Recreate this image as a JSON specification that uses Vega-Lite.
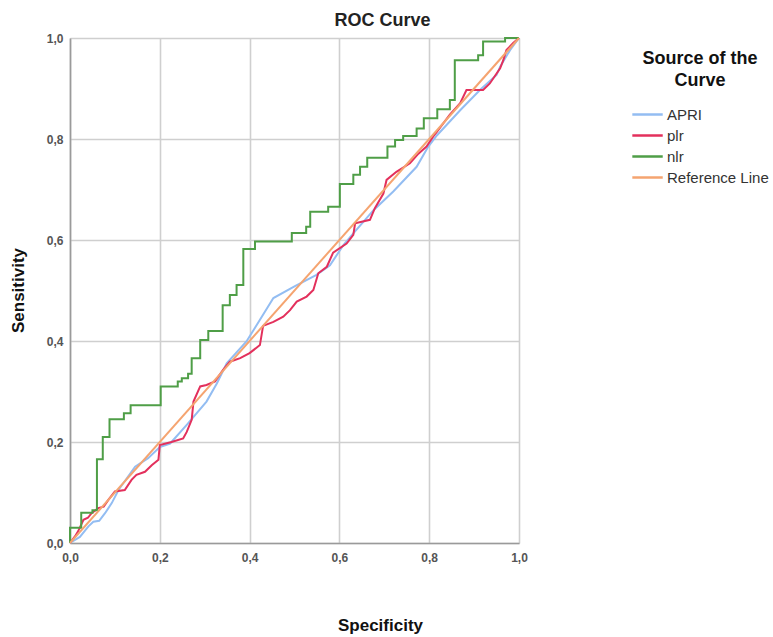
{
  "$schema": "https://vega.github.io/schema/vega-lite/v6.json",
  "autosize": {"type": "none"},
  "padding": {"left": 70, "top": 38, "right": 254, "bottom": 94},
  "width": 449,
  "height": 505,
  "background": "white",
  "title": {"text": "ROC Curve", "fontSize": 18, "fontWeight": "bold", "font": "Liberation Sans", "color": "#222222", "anchor": "middle", "dx": 88, "offset": 2},
  "datasets": {
    "roc": [
      {"series": "APRI", "spec": 0, "sens": 0},
      {"series": "APRI", "spec": 0.022, "sens": 0.012},
      {"series": "APRI", "spec": 0.041, "sens": 0.033},
      {"series": "APRI", "spec": 0.052, "sens": 0.042},
      {"series": "APRI", "spec": 0.065, "sens": 0.044},
      {"series": "APRI", "spec": 0.078, "sens": 0.059},
      {"series": "APRI", "spec": 0.093, "sens": 0.079},
      {"series": "APRI", "spec": 0.108, "sens": 0.105},
      {"series": "APRI", "spec": 0.145, "sens": 0.151},
      {"series": "APRI", "spec": 0.174, "sens": 0.168},
      {"series": "APRI", "spec": 0.2, "sens": 0.19},
      {"series": "APRI", "spec": 0.223, "sens": 0.197},
      {"series": "APRI", "spec": 0.26, "sens": 0.234},
      {"series": "APRI", "spec": 0.304, "sens": 0.28},
      {"series": "APRI", "spec": 0.327, "sens": 0.316},
      {"series": "APRI", "spec": 0.349, "sens": 0.356},
      {"series": "APRI", "spec": 0.393, "sens": 0.399},
      {"series": "APRI", "spec": 0.453, "sens": 0.485},
      {"series": "APRI", "spec": 0.5, "sens": 0.508},
      {"series": "APRI", "spec": 0.549, "sens": 0.531},
      {"series": "APRI", "spec": 0.579, "sens": 0.55},
      {"series": "APRI", "spec": 0.609, "sens": 0.59},
      {"series": "APRI", "spec": 0.631, "sens": 0.613},
      {"series": "APRI", "spec": 0.676, "sens": 0.659},
      {"series": "APRI", "spec": 0.72, "sens": 0.696},
      {"series": "APRI", "spec": 0.772, "sens": 0.745},
      {"series": "APRI", "spec": 0.798, "sens": 0.785},
      {"series": "APRI", "spec": 0.817, "sens": 0.807},
      {"series": "APRI", "spec": 0.869, "sens": 0.857},
      {"series": "APRI", "spec": 0.913, "sens": 0.897},
      {"series": "APRI", "spec": 0.95, "sens": 0.927},
      {"series": "APRI", "spec": 0.958, "sens": 0.943},
      {"series": "APRI", "spec": 0.98, "sens": 0.976},
      {"series": "APRI", "spec": 1, "sens": 1},
      {"series": "plr", "spec": 0, "sens": 0},
      {"series": "plr", "spec": 0.011, "sens": 0.013},
      {"series": "plr", "spec": 0.018, "sens": 0.023},
      {"series": "plr", "spec": 0.03, "sens": 0.046},
      {"series": "plr", "spec": 0.04, "sens": 0.05},
      {"series": "plr", "spec": 0.048, "sens": 0.059},
      {"series": "plr", "spec": 0.063, "sens": 0.069},
      {"series": "plr", "spec": 0.075, "sens": 0.072},
      {"series": "plr", "spec": 0.085, "sens": 0.085},
      {"series": "plr", "spec": 0.1, "sens": 0.102},
      {"series": "plr", "spec": 0.122, "sens": 0.105},
      {"series": "plr", "spec": 0.137, "sens": 0.125},
      {"series": "plr", "spec": 0.148, "sens": 0.135},
      {"series": "plr", "spec": 0.167, "sens": 0.141},
      {"series": "plr", "spec": 0.182, "sens": 0.154},
      {"series": "plr", "spec": 0.197, "sens": 0.165},
      {"series": "plr", "spec": 0.2, "sens": 0.194},
      {"series": "plr", "spec": 0.226, "sens": 0.2},
      {"series": "plr", "spec": 0.252, "sens": 0.207},
      {"series": "plr", "spec": 0.26, "sens": 0.22},
      {"series": "plr", "spec": 0.271, "sens": 0.244},
      {"series": "plr", "spec": 0.275, "sens": 0.28},
      {"series": "plr", "spec": 0.29, "sens": 0.31},
      {"series": "plr", "spec": 0.304, "sens": 0.313},
      {"series": "plr", "spec": 0.323, "sens": 0.32},
      {"series": "plr", "spec": 0.341, "sens": 0.343},
      {"series": "plr", "spec": 0.356, "sens": 0.359},
      {"series": "plr", "spec": 0.379, "sens": 0.366},
      {"series": "plr", "spec": 0.4, "sens": 0.376},
      {"series": "plr", "spec": 0.423, "sens": 0.392},
      {"series": "plr", "spec": 0.43, "sens": 0.43},
      {"series": "plr", "spec": 0.453, "sens": 0.438},
      {"series": "plr", "spec": 0.475, "sens": 0.448},
      {"series": "plr", "spec": 0.49, "sens": 0.461},
      {"series": "plr", "spec": 0.505, "sens": 0.478},
      {"series": "plr", "spec": 0.527, "sens": 0.488},
      {"series": "plr", "spec": 0.542, "sens": 0.501},
      {"series": "plr", "spec": 0.553, "sens": 0.534},
      {"series": "plr", "spec": 0.572, "sens": 0.547},
      {"series": "plr", "spec": 0.586, "sens": 0.575},
      {"series": "plr", "spec": 0.616, "sens": 0.593},
      {"series": "plr", "spec": 0.631, "sens": 0.61},
      {"series": "plr", "spec": 0.635, "sens": 0.633},
      {"series": "plr", "spec": 0.668, "sens": 0.64},
      {"series": "plr", "spec": 0.679, "sens": 0.663},
      {"series": "plr", "spec": 0.698, "sens": 0.692},
      {"series": "plr", "spec": 0.705, "sens": 0.719},
      {"series": "plr", "spec": 0.727, "sens": 0.735},
      {"series": "plr", "spec": 0.757, "sens": 0.752},
      {"series": "plr", "spec": 0.776, "sens": 0.771},
      {"series": "plr", "spec": 0.794, "sens": 0.785},
      {"series": "plr", "spec": 0.809, "sens": 0.805},
      {"series": "plr", "spec": 0.817, "sens": 0.814},
      {"series": "plr", "spec": 0.846, "sens": 0.848},
      {"series": "plr", "spec": 0.869, "sens": 0.871},
      {"series": "plr", "spec": 0.883, "sens": 0.897},
      {"series": "plr", "spec": 0.92, "sens": 0.897},
      {"series": "plr", "spec": 0.935, "sens": 0.91},
      {"series": "plr", "spec": 0.958, "sens": 0.94},
      {"series": "plr", "spec": 0.965, "sens": 0.956},
      {"series": "plr", "spec": 0.972, "sens": 0.976},
      {"series": "plr", "spec": 0.987, "sens": 0.99},
      {"series": "plr", "spec": 1, "sens": 1},
      {"series": "nlr", "spec": 0, "sens": 0},
      {"series": "nlr", "spec": 0, "sens": 0.03},
      {"series": "nlr", "spec": 0.025, "sens": 0.06},
      {"series": "nlr", "spec": 0.05, "sens": 0.065},
      {"series": "nlr", "spec": 0.06, "sens": 0.166},
      {"series": "nlr", "spec": 0.073, "sens": 0.21},
      {"series": "nlr", "spec": 0.088, "sens": 0.245},
      {"series": "nlr", "spec": 0.12, "sens": 0.257},
      {"series": "nlr", "spec": 0.135, "sens": 0.273},
      {"series": "nlr", "spec": 0.202, "sens": 0.31},
      {"series": "nlr", "spec": 0.24, "sens": 0.32},
      {"series": "nlr", "spec": 0.249, "sens": 0.326},
      {"series": "nlr", "spec": 0.263, "sens": 0.335},
      {"series": "nlr", "spec": 0.271, "sens": 0.366},
      {"series": "nlr", "spec": 0.29, "sens": 0.402},
      {"series": "nlr", "spec": 0.308, "sens": 0.42},
      {"series": "nlr", "spec": 0.34, "sens": 0.471},
      {"series": "nlr", "spec": 0.356, "sens": 0.491},
      {"series": "nlr", "spec": 0.371, "sens": 0.511},
      {"series": "nlr", "spec": 0.386, "sens": 0.582},
      {"series": "nlr", "spec": 0.412, "sens": 0.597},
      {"series": "nlr", "spec": 0.494, "sens": 0.614},
      {"series": "nlr", "spec": 0.526, "sens": 0.626},
      {"series": "nlr", "spec": 0.535, "sens": 0.656},
      {"series": "nlr", "spec": 0.575, "sens": 0.666},
      {"series": "nlr", "spec": 0.601, "sens": 0.711},
      {"series": "nlr", "spec": 0.631, "sens": 0.729},
      {"series": "nlr", "spec": 0.646, "sens": 0.745},
      {"series": "nlr", "spec": 0.662, "sens": 0.763},
      {"series": "nlr", "spec": 0.707, "sens": 0.785},
      {"series": "nlr", "spec": 0.724, "sens": 0.798},
      {"series": "nlr", "spec": 0.742, "sens": 0.806},
      {"series": "nlr", "spec": 0.772, "sens": 0.821},
      {"series": "nlr", "spec": 0.788, "sens": 0.841},
      {"series": "nlr", "spec": 0.818, "sens": 0.859},
      {"series": "nlr", "spec": 0.846, "sens": 0.877},
      {"series": "nlr", "spec": 0.857, "sens": 0.956},
      {"series": "nlr", "spec": 0.909, "sens": 0.966},
      {"series": "nlr", "spec": 0.92, "sens": 0.993},
      {"series": "nlr", "spec": 0.969, "sens": 1},
      {"series": "nlr", "spec": 1, "sens": 1},
      {"series": "Reference Line", "spec": 0, "sens": 0},
      {"series": "Reference Line", "spec": 1, "sens": 1}
    ]
  },
  "data": {"name": "roc"},
  "encoding": {
    "x": {
      "field": "spec", "type": "quantitative",
      "scale": {"domain": [0, 1], "nice": false},
      "axis": {
        "title": "Specificity", "values": [0, 0.2, 0.4, 0.6, 0.8, 1],
        "labelExpr": "replace(format(datum.value, '.1f'), '.', ',')",
        "labelFlush": false,
        "titleX": 310, "titleY": 82, "titleBaseline": "middle", "titleAlign": "center"
      }
    },
    "y": {
      "field": "sens", "type": "quantitative",
      "scale": {"domain": [0, 1], "nice": false},
      "axis": {
        "title": "Sensitivity", "values": [0, 0.2, 0.4, 0.6, 0.8, 1],
        "labelExpr": "replace(format(datum.value, '.1f'), '.', ',')",
        "labelFlush": false,
        "titleX": -52, "titleY": 252, "titleBaseline": "middle", "titleAlign": "center", "titleAngle": 270
      }
    },
    "color": {
      "field": "series", "type": "nominal",
      "scale": {"domain": ["APRI", "plr", "nlr", "Reference Line"], "range": ["#93bdf2", "#e3305c", "#4f9e47", "#f5a470"]},
      "legend": {
        "orient": "none", "legendX": 561, "legendY": 12,
        "title": ["Source of the", "Curve"],
        "titleFontSize": 18, "titleFontWeight": "bold", "titleColor": "#111111",
        "titleAnchor": "middle", "titleAlign": "center", "titleLineHeight": 22, "titlePadding": 12,
        "labelFontSize": 15, "labelColor": "#333333", "labelOffset": 11,
        "symbolType": "M-1,0H1.72", "symbolSize": 500, "symbolStrokeWidth": 2.5,
        "rowPadding": 0
      }
    }
  },
  "layer": [
    {
      "transform": [{"filter": "datum.series === 'APRI' || datum.series === 'plr'"}],
      "mark": {"type": "line", "strokeWidth": 2, "interpolate": "linear"}
    },
    {
      "transform": [{"filter": "datum.series === 'nlr'"}],
      "mark": {"type": "line", "strokeWidth": 2, "interpolate": "step-after"}
    },
    {
      "transform": [{"filter": "datum.series === 'Reference Line'"}],
      "mark": {"type": "line", "strokeWidth": 2}
    }
  ],
  "config": {
    "font": "Liberation Sans",
    "view": {"stroke": null},
    "axis": {
      "grid": true, "gridColor": "#cfcfcf", "gridWidth": 1.6,
      "domainColor": "#9a9a9a", "domainWidth": 1.6,
      "ticks": false,
      "labelFontSize": 12, "labelFontWeight": "bold", "labelColor": "#555555",
      "titleFontSize": 17, "titleFontWeight": "bold", "titleColor": "#111111"
    },
    "axisX": {"labelPadding": 9},
    "axisY": {"labelPadding": 7}
  }
}
